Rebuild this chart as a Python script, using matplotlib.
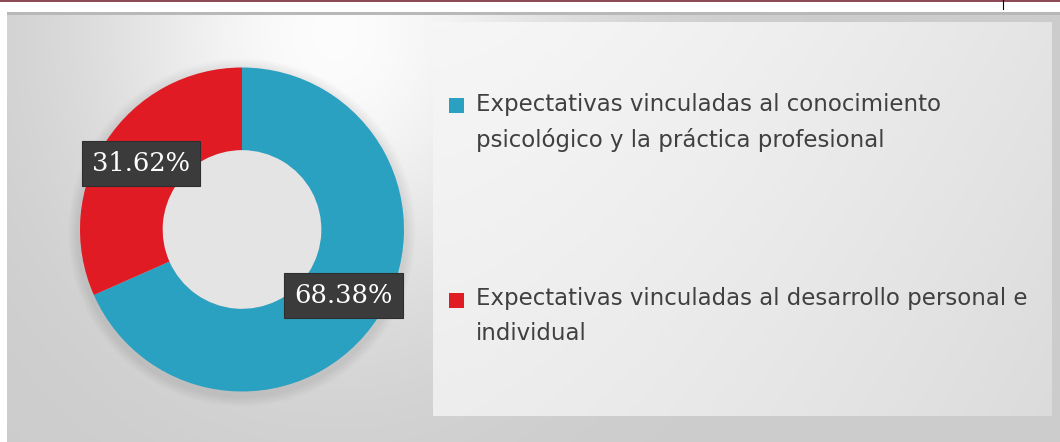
import numpy as np
import matplotlib
matplotlib.use("Agg")
import matplotlib.pyplot as plt
from matplotlib.patches import Rectangle

# data
categories = [
    "Expectativas vinculadas al conocimiento\npsicológico y la práctica profesional",
    "Expectativas vinculadas al desarrollo personal e\nindividual",
]
shares = [68.38, 31.62]
colors = ["#2ba1c1", "#e01b24"]

W, H = 1060, 442
fig = plt.figure(figsize=(W / 100, H / 100), dpi=100)

# background in pixel coordinates
bg = fig.add_axes([0, 0, 1, 1])
bg.set_xlim(0, W)
bg.set_ylim(H, 0)
bg.axis("off")

yy, xx = np.mgrid[0:H, 0:W]
val = 0.80 + 0.19 * np.exp(-((xx - 330) ** 2 / (2 * 170.0 ** 2) + (yy - 20) ** 2 / (2 * 200.0 ** 2)))
val = np.clip(val, 0, 1)
bg.imshow(np.dstack([val] * 3), extent=(7, W, H, 14), aspect="auto", zorder=0)
bg.add_patch(Rectangle((7, 12), W - 7, 2.5, color="#b8b8b8", lw=0, zorder=1))
bg.add_patch(Rectangle((0, 0), W, 1.6, color="#8c4a58", lw=0, zorder=1))
bg.plot([1003, 1003], [0, 9], color="black", lw=0.8)

# legend panel
py, px = np.mgrid[0:100, 0:200]
pan = 0.965 - 0.07 * (px / 199.0) ** 1.5 - 0.035 * (py / 99.0)
bg.imshow(np.dstack([pan] * 3), extent=(433, 1052, 416, 22), aspect="auto", zorder=2)

# soft shadow around donut
cx, cy, R = 242, 229.5, 162
for k in range(10):
    bg.add_patch(plt.Circle((cx, cy + 3), R + 12 - k, color="black", alpha=0.008, lw=0, zorder=3))

# donut
ax = fig.add_axes([(cx - R) / W, (H - cy - R) / H, 2 * R / W, 2 * R / H])
wedges, texts, autotexts = ax.pie(
    shares, colors=colors, startangle=90, counterclock=False,
    autopct="%.2f%%", pctdistance=0.745,
    wedgeprops=dict(width=0.51, linewidth=0),
    textprops=dict(color="white", fontsize=18.5, family="DejaVu Serif"),
)
ax.set_xlim(-1, 1)
ax.set_ylim(-1, 1)
ax.set_aspect("equal")
for t in autotexts:
    t.set_bbox(dict(boxstyle="square,pad=0.4", facecolor="#3b3b3b", edgecolor="#2e2e2e", lw=0.8))
ax.add_patch(plt.Circle((0, 0), 0.49, color="#e4e4e4", lw=0, zorder=0))

# legend (manual, square beside first line)
leg_top = [92.5, 287.5]
for label, color, top in zip(categories, colors, leg_top):
    bg.add_patch(Rectangle((449, top + 5), 15, 15, color=color, lw=0, zorder=5))
    bg.text(476, top, label, fontsize=16.5, color="#404040", va="top", ha="left",
            linespacing=1.65, family="DejaVu Sans", zorder=5)

fig.savefig("out.png", dpi=100)
